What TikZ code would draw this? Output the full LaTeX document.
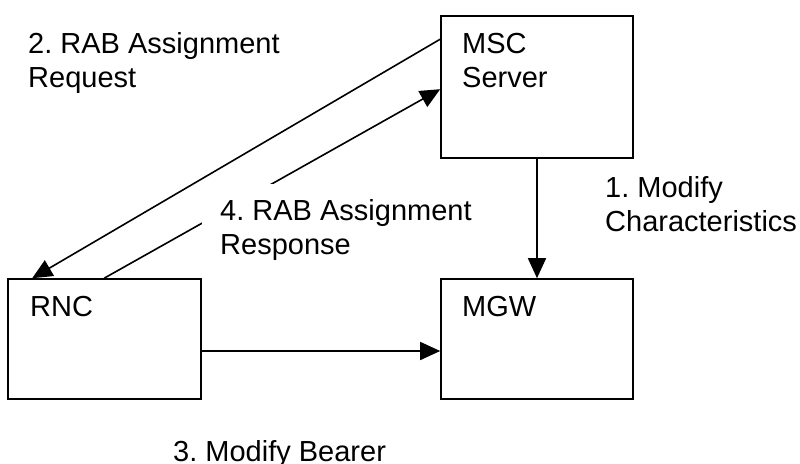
\documentclass[tikz,border=0pt]{standalone}
\usepackage{fontspec}
\setmainfont{Liberation Sans}
\frenchspacing
\usetikzlibrary{positioning,arrows.meta}
\tikzset{
  blk/.style={rectangle, draw=black, line width=1.6pt, inner sep=0pt},
  lbl/.style={font=\fontsize{29}{34}\selectfont, align=left, inner sep=0pt, anchor=north west},
  msg/.style={draw=black, line width=1.6pt, -{Triangle[length=20pt,width=18pt]}},
  flow/.style={x=1pt, y=-1pt}
}
\begin{document}
\begin{tikzpicture}[flow]
  \useasboundingbox (0,0) rectangle (800,463);
  \node[blk, minimum width=192pt, minimum height=142pt] (msc) at (537,87) {};
  \node[blk, minimum width=192pt, minimum height=120pt] (mgw) at (537,339) {};
  \node[blk, minimum width=193pt, minimum height=120pt] (rnc) at (104.5,339) {};
  \node[lbl] (msct) at (462,33) {MSC\\Server};
  \node[lbl] (mgwt) at (462,296) {MGW};
  \node[lbl] (rnct) at (30,296) {RNC};
  \draw[msg] (msc.south) -- (mgw.north);
  \draw[msg] ([yshift=-24pt]msc.north west) -- ([xshift=25pt]rnc.north west);
  \draw[msg] ([xshift=97pt]rnc.north west) -- ([yshift=-74pt]msc.north west);
  \draw[msg] ([yshift=-12pt]rnc.east) -- ([yshift=-12pt]mgw.west);
  \node[lbl] (req) at (28,32) {2. RAB Assignment\\Request};
  \node[lbl, fill=white, inner xsep=18pt, inner ysep=15pt] (resp) at (202,184) {4. RAB Assignment\\Response};
  \node[lbl] (modc) at (605,176) {1. Modify\\Characteristics};
  \node[lbl] (modb) at (173,440) {3. Modify Bearer};
\end{tikzpicture}
\end{document}
